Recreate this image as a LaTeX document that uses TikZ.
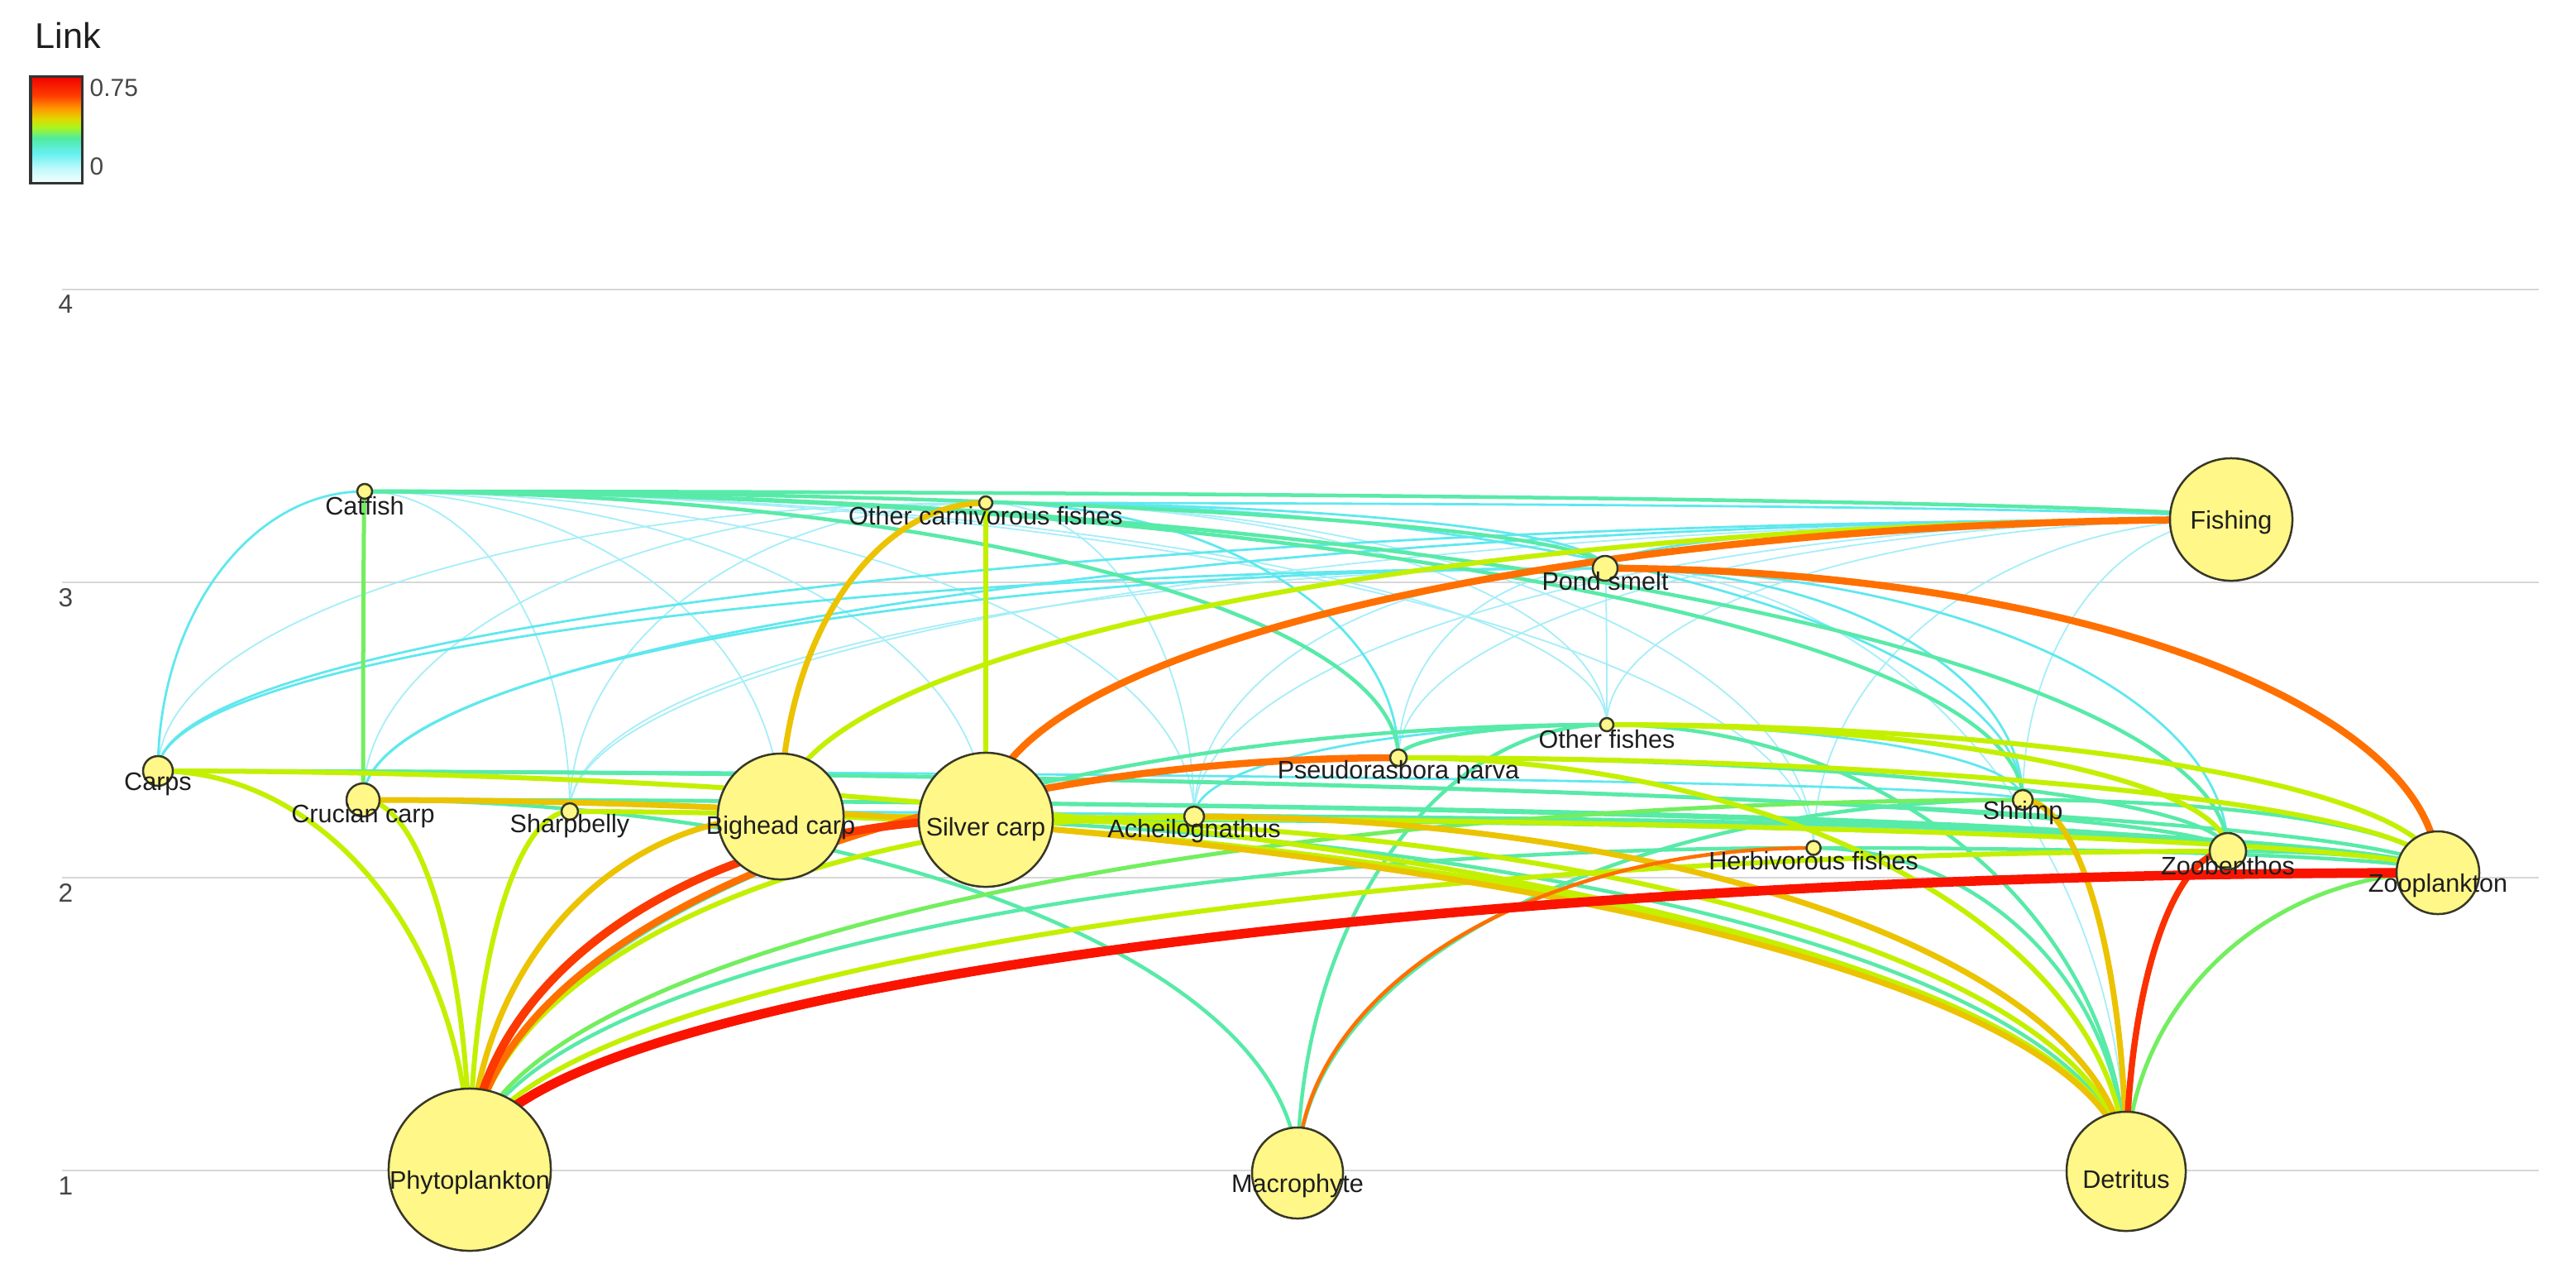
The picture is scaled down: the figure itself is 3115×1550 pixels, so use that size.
\documentclass[tikz,border=0pt]{standalone}
\usepackage{fontspec}
\setmainfont{Liberation Sans}
\usetikzlibrary{calc}
\pgfdeclarelayer{bg}
\pgfsetlayers{bg,main}
% edge colours
\definecolor{lkA}{RGB}{165,238,248}
\definecolor{lkB}{RGB}{95,232,238}
\definecolor{lkC}{RGB}{88,234,168}
\definecolor{lkD}{RGB}{115,238,95}
\definecolor{lkE}{RGB}{195,240,0}
\definecolor{lkF}{RGB}{235,195,0}
\definecolor{lkG}{RGB}{255,112,0}
\definecolor{lkH}{RGB}{250,20,0}
% legend gradient
\definecolor{lg0}{RGB}{242,255,255}
\definecolor{lg1}{RGB}{200,250,252}
\definecolor{lg2}{RGB}{100,240,240}
\definecolor{lg3}{RGB}{80,235,160}
\definecolor{lg4}{RGB}{170,245,30}
\definecolor{lg5}{RGB}{225,215,0}
\definecolor{lg6}{RGB}{255,150,0}
\definecolor{lg7}{RGB}{255,60,0}
\definecolor{lg8}{RGB}{240,0,0}
\pgfdeclareverticalshading{lnkshade}{100bp}{color(0bp)=(lg0); color(25bp)=(lg0); color(31bp)=(lg1); color(39bp)=(lg2); color(46bp)=(lg3); color(51bp)=(lg4); color(55bp)=(lg5); color(60bp)=(lg6); color(66bp)=(lg7); color(75bp)=(lg8); color(100bp)=(lg8)}
\definecolor{nodefill}{RGB}{255,247,135}
\definecolor{nodeline}{RGB}{55,55,40}
\definecolor{gridc}{RGB}{215,215,215}
\definecolor{txtc}{RGB}{30,30,30}
\definecolor{axc}{RGB}{70,70,70}
\tikzset{
  fwc/.style={circle, draw=nodeline, line width=0.025cm, fill=nodefill, inner sep=0pt},
  fwl/.style={text=txtc, inner sep=0pt, font=\fontsize{8.7}{10}\selectfont},
  axl/.style={text=axc, inner sep=0pt, anchor=north west, font=\fontsize{9}{10}\selectfont},
  gridl/.style={draw=gridc, line width=0.02cm},
  k0/.style={draw=lkA, line width=0.018cm},
  k1/.style={draw=lkB, line width=0.028cm},
  k2/.style={draw=lkC, line width=0.045cm},
  k3/.style={draw=lkD, line width=0.05cm},
  k4/.style={draw=lkE, line width=0.06cm},
  k5/.style={draw=lkF, line width=0.07cm},
  k6/.style={draw=lkG, line width=0.085cm},
  k7/.style={draw=lkH, line width=0.115cm}
}
\newcommand\fwnode[6]{\node[fwc, minimum size=#4cm] (#1) at (#2,#3) {};
  \node[fwl] (#1l) at ($(#1)+(0,#5)$) {#6};}
\newcommand\fwlink[3]{\draw[#3] (#1.center) .. controls ($(#1.center)!0.5523!(#1.center|-#2.center)$) and ($(#2.center)!0.5523!(#1.center|-#2.center)$) .. (#2.center);}
\begin{document}
\begin{tikzpicture}[x=0.01cm, y=-0.01cm]
\useasboundingbox (0,0) rectangle (3115,1550);
% legend
\node[text=txtc, inner sep=0pt, anchor=south west, font=\fontsize{12.3}{14}\selectfont] (legtitle) at (42,59) {Link};
\shadedraw[shading=lnkshade, draw=black!80, line width=0.03cm] (37,92) rectangle (99,221);
\node[axl, anchor=west, font=\fontsize{8.5}{10}\selectfont] (legmax) at (108,106) {0.75};
\node[axl, anchor=west, font=\fontsize{8.5}{10}\selectfont] (legmin) at (108,201) {0};
% axis labels
\node[axl] (ax4) at (70,356) {4};
\node[axl] (ax3) at (70,711) {3};
\node[axl] (ax2) at (70,1068) {2};
\node[axl] (ax1) at (70,1422) {1};
% nodes
\fwnode{ctf}{441}{594}{0.18}{18}{Catfish}
\fwnode{ocf}{1192}{608}{0.16}{16}{Other carnivorous fishes}
\fwnode{fsh}{2698}{628}{1.48}{4}{Fishing}
\fwnode{psm}{1941}{687}{0.30}{16}{Pond smelt}
\fwnode{ofi}{1943}{876}{0.16}{18}{Other fishes}
\fwnode{pse}{1691}{916}{0.20}{18}{Pseudorasbora parva}
\fwnode{crp}{191}{932}{0.36}{16}{Carps}
\fwnode{cru}{439}{967}{0.40}{20}{Crucian carp}
\fwnode{shb}{689}{981}{0.20}{18}{Sharpbelly}
\fwnode{bhc}{944}{987}{1.52}{14}{Bighead carp}
\fwnode{svc}{1192}{991}{1.62}{12}{Silver carp}
\fwnode{ach}{1444}{987}{0.24}{18}{Acheilognathus}
\fwnode{shr}{2446}{967}{0.24}{16}{Shrimp}
\fwnode{hbf}{2193}{1025}{0.17}{16}{Herbivorous fishes}
\fwnode{zbn}{2694}{1029}{0.44}{18}{Zoobenthos}
\fwnode{zpl}{2948}{1055}{1.00}{16}{Zooplankton}
\fwnode{phy}{568}{1414}{1.96}{16}{Phytoplankton}
\fwnode{mac}{1569}{1418}{1.10}{16}{Macrophyte}
\fwnode{det}{2571}{1416}{1.44}{10}{Detritus}
\begin{pgfonlayer}{bg}
% grid
\coordinate (g4a) at (75,350); \coordinate (g4b) at (3070,350);
\coordinate (g3a) at (75,704); \coordinate (g3b) at (3070,704);
\coordinate (g2a) at (75,1061); \coordinate (g2b) at (3070,1061);
\coordinate (g1a) at (75,1415); \coordinate (g1b) at (3070,1415);
\draw[gridl] (g4a) -- (g4b);
\draw[gridl] (g3a) -- (g3b);
\draw[gridl] (g2a) -- (g2b);
\draw[gridl] (g1a) -- (g1b);
% k0
\fwlink{shb}{ctf}{k0}
\fwlink{bhc}{ctf}{k0}
\fwlink{ach}{ctf}{k0}
\fwlink{ofi}{ctf}{k0}
\fwlink{svc}{ctf}{k0}
\fwlink{hbf}{ctf}{k0}
\fwlink{crp}{ocf}{k0}
\fwlink{cru}{ocf}{k0}
\fwlink{shb}{ocf}{k0}
\fwlink{ach}{ocf}{k0}
\fwlink{ofi}{ocf}{k0}
\fwlink{hbf}{ocf}{k0}
\fwlink{pse}{fsh}{k0}
\fwlink{ofi}{fsh}{k0}
\fwlink{ach}{fsh}{k0}
\fwlink{shb}{fsh}{k0}
\fwlink{shr}{fsh}{k0}
\fwlink{hbf}{fsh}{k0}
\fwlink{ofi}{psm}{k0}
\fwlink{pse}{psm}{k0}
\fwlink{ach}{psm}{k0}
\fwlink{shb}{psm}{k0}
\fwlink{det}{psm}{k0}
% k1
\fwlink{crp}{ctf}{k1}
\fwlink{pse}{ocf}{k1}
\fwlink{psm}{ocf}{k1}
\fwlink{fsh}{ocf}{k1}
\fwlink{crp}{fsh}{k1}
\fwlink{cru}{fsh}{k1}
\fwlink{psm}{fsh}{k1}
\fwlink{shr}{ocf}{k1}
\fwlink{shr}{psm}{k1}
\fwlink{shr}{ofi}{k1}
\fwlink{zbn}{psm}{k1}
\fwlink{zbn}{ach}{k1}
\fwlink{zbn}{shb}{k1}
\fwlink{zpl}{shb}{k1}
\fwlink{ach}{ofi}{k1}
\fwlink{shr}{crp}{k1}
\fwlink{cru}{psm}{k1}
\fwlink{crp}{psm}{k1}
% k2
\fwlink{pse}{ctf}{k2}
\fwlink{psm}{ctf}{k2}
\fwlink{fsh}{ctf}{k2}
\fwlink{shr}{ctf}{k2}
\fwlink{zbn}{ctf}{k2}
\fwlink{pse}{ofi}{k2}
\fwlink{mac}{cru}{k2}
\fwlink{mac}{ofi}{k2}
\fwlink{mac}{shr}{k2}
\fwlink{phy}{ofi}{k2}
\fwlink{phy}{hbf}{k2}
\fwlink{det}{bhc}{k2}
\fwlink{det}{ofi}{k2}
\fwlink{det}{hbf}{k2}
\fwlink{zpl}{crp}{k2}
\fwlink{zpl}{cru}{k2}
\fwlink{zpl}{svc}{k2}
\fwlink{zpl}{ach}{k2}
\fwlink{zpl}{hbf}{k2}
\fwlink{zpl}{shr}{k2}
\fwlink{zpl}{zbn}{k2}
\fwlink{zbn}{crp}{k2}
\fwlink{zbn}{cru}{k2}
\fwlink{zbn}{pse}{k2}
% k3
\fwlink{cru}{ctf}{k3}
\fwlink{phy}{shr}{k3}
\fwlink{det}{zpl}{k3}
% k4
\fwlink{phy}{crp}{k4}
\fwlink{phy}{cru}{k4}
\fwlink{phy}{shb}{k4}
\fwlink{phy}{ach}{k4}
\fwlink{phy}{zbn}{k4}
\fwlink{svc}{ocf}{k4}
\fwlink{bhc}{fsh}{k4}
\fwlink{det}{crp}{k4}
\fwlink{det}{shb}{k4}
\fwlink{det}{svc}{k4}
\fwlink{det}{pse}{k4}
\fwlink{zpl}{bhc}{k4}
\fwlink{zpl}{pse}{k4}
\fwlink{zpl}{ofi}{k4}
\fwlink{zbn}{ofi}{k4}
% k5
\fwlink{phy}{bhc}{k5}
\fwlink{bhc}{ocf}{k5}
\fwlink{det}{cru}{k5}
\fwlink{det}{ach}{k5}
\fwlink{det}{shr}{k5}
% k6
\fwlink{phy}{pse}{k6}
\fwlink{svc}{fsh}{k6}
\fwlink{zpl}{psm}{k6}
\fwlink{mac}{hbf}{k6, line width=0.045cm}
\fwlink{phy}{svc}{k6, draw=lkH!60!lkG, line width=0.1cm}
\fwlink{det}{zbn}{k6, draw=lkH!70!lkG, line width=0.075cm}
% k7
\fwlink{phy}{zpl}{k7}
\end{pgfonlayer}
\end{tikzpicture}
\end{document}
